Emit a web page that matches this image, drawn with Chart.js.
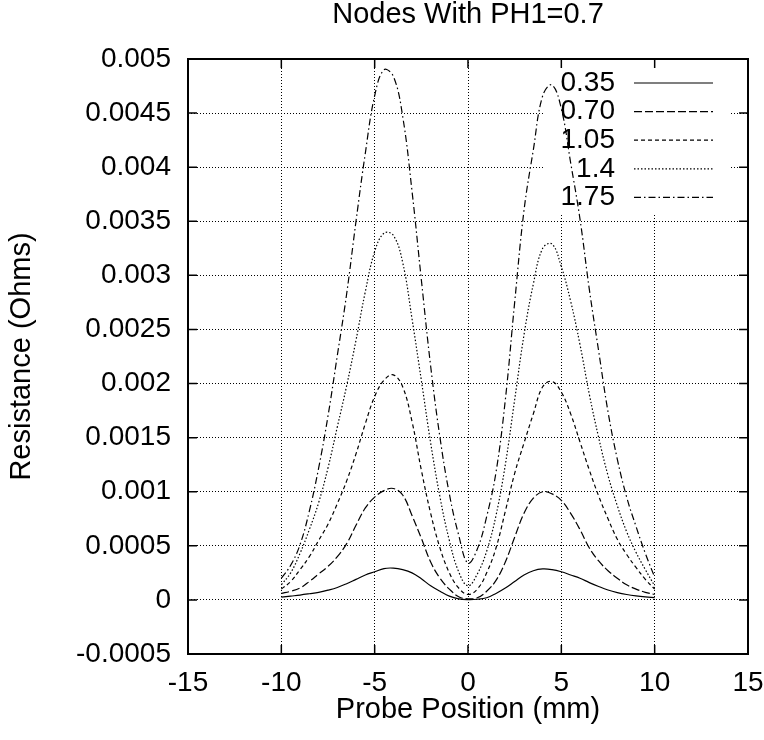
<!DOCTYPE html>
<html><head><meta charset="utf-8">
<script src="https://cdn.jsdelivr.net/npm/chart.js@4.4.0/dist/chart.umd.min.js"></script>
<style>html,body{margin:0;padding:0;background:#fff;} canvas{display:block;}</style>
</head><body>
<canvas id="c" width="764" height="740"></canvas>
<script>
const chartTitle = 'Nodes With PH1=0.7';
const xTitle = 'Probe Position (mm)';
const yTitle = 'Resistance (Ohms)';

const positions = [-10,-9.5,-9,-8.5,-8,-7.5,-7,-6.5,-6,-5.5,-5,-4.5,-4,-3.5,-3,-2.5,-2,-1.5,-1,-0.5,0,
  0.5,1,1.5,2,2.5,3,3.5,4,4.5,5,5.5,6,6.5,7,7.5,8,8.5,9,9.5,10];

const seriesLabels = ['0.35','0.70','1.05','1.4','1.75'];

const r035 = [0.000025,0.000035,0.000045,0.000057,0.00007,0.00009,0.000115,0.00015,0.00019,0.00023,0.00026,0.00029,0.000294,0.00028,0.00025,0.000195,0.00013,0.00008,0.000035,0.00001,0.000003,
  0.000006,0.00002,0.00006,0.00011,0.00017,0.00023,0.00027,0.000286,0.00028,0.00026,0.00023,0.0002,0.00016,0.000124,0.000092,0.000068,0.00005,0.000037,0.000028,0.000022];
const r070 = [0.00006,0.00008,0.00011,0.00017,0.00024,0.00031,0.0004,0.00052,0.00069,0.00085,0.00095,0.00101,0.00103,0.00097,0.00078,0.00057,0.00035,0.0002,0.0001,0.00003,0.00001,
  0.00002,0.00008,0.00018,0.00035,0.00058,0.0008,0.00094,0.001,0.00098,0.00092,0.0008,0.00065,0.00048,0.00036,0.00027,0.0002,0.00014,0.0001,0.00007,0.00005];
const r105 = [0.0001,0.00017,0.00028,0.0004,0.00055,0.0007,0.00089,0.0011,0.00135,0.00163,0.00188,0.00203,0.00208,0.00197,0.00165,0.0012,0.0008,0.00048,0.00025,0.00011,0.00005,
  0.0001,0.00025,0.00048,0.00082,0.00117,0.00145,0.00172,0.00197,0.00202,0.00192,0.00172,0.00146,0.0012,0.00096,0.00075,0.00056,0.00042,0.0003,0.00019,0.0001];
const r140 = [0.00014,0.00025,0.00043,0.00065,0.0009,0.00122,0.0016,0.00198,0.0024,0.00285,0.00322,0.00339,0.00337,0.00312,0.0026,0.00203,0.00145,0.00095,0.00055,0.00026,0.00013,
  0.00024,0.00045,0.00078,0.00125,0.00185,0.00245,0.00292,0.00325,0.00329,0.00308,0.00276,0.00236,0.0019,0.0015,0.00115,0.00087,0.00063,0.00044,0.00028,0.00013];
const r175 = [0.0002,0.00032,0.00051,0.00082,0.00122,0.0017,0.00226,0.00283,0.0035,0.00413,0.00466,0.0049,0.00484,0.00447,0.00378,0.00296,0.00216,0.0015,0.00098,0.0006,0.00034,
  0.00047,0.00077,0.00118,0.00185,0.00275,0.0036,0.00416,0.00466,0.00476,0.00454,0.00404,0.00352,0.00287,0.0023,0.00174,0.0013,0.00095,0.00068,0.00043,0.00021];

const xTickValues = [-15,-10,-5,0,5,10,15];
const xTickLabels = ['-15','-10','-5','0','5','10','15'];
const yTickValues = [-0.0005,0,0.0005,0.001,0.0015,0.002,0.0025,0.003,0.0035,0.004,0.0045,0.005];
const yTickLabels = ['-0.0005','0','0.0005','0.001','0.0015','0.002','0.0025','0.003','0.0035','0.004','0.0045','0.005'];

const FONT = "'Liberation Sans', Arial, Helvetica, sans-serif";
const TICK_SIZE = 28, TEXT_SIZE = 29, KEY_SIZE = 28;
const dashes = [[], [8,3], [4,3], [1.5,2], [7,3,1.5,3]];
const seriesValues = [r035, r070, r105, r140, r175];

const datasets = seriesValues.map((vals, i) => ({
  label: seriesLabels[i],
  data: positions.map((p, j) => ({x: p, y: vals[j]})),
  borderColor: '#000',
  borderWidth: 1.2,
  borderDash: dashes[i],
  pointRadius: 0,
  fill: false,
  tension: 0.4
}));

const frame = {
  id: 'frame',
  beforeDatasetsDraw(chart) {
    const {ctx, chartArea: a} = chart;
    ctx.save();
    ctx.fillStyle = '#fff';
    ctx.fillRect(a.right - 203, a.top + 2, 186, 153);
    ctx.restore();
  },
  afterDatasetsDraw(chart) {
    const {ctx, chartArea: a, scales: {x, y}} = chart;
    ctx.save();
    ctx.strokeStyle = '#000';
    ctx.lineWidth = 1.5;
    ctx.beginPath();
    xTickValues.forEach(v => {
      const px = x.getPixelForValue(v);
      ctx.moveTo(px, a.bottom); ctx.lineTo(px, a.bottom - 9);
      ctx.moveTo(px, a.top); ctx.lineTo(px, a.top + 9);
    });
    yTickValues.forEach(v => {
      const py = y.getPixelForValue(v);
      ctx.moveTo(a.left, py); ctx.lineTo(a.left + 9, py);
      ctx.moveTo(a.right, py); ctx.lineTo(a.right - 9, py);
    });
    ctx.stroke();
    ctx.lineWidth = 2;
    ctx.strokeRect(a.left, a.top, a.right - a.left, a.bottom - a.top);

    ctx.fillStyle = '#000';
    ctx.font = TEXT_SIZE + 'px ' + FONT;
    ctx.textAlign = 'center';
    ctx.textBaseline = 'middle';
    ctx.fillText(chartTitle, (a.left + a.right) / 2, 15);

    ctx.font = KEY_SIZE + 'px ' + FONT;
    ctx.textAlign = 'right';
    chart.data.datasets.forEach((ds, i) => {
      const yy = a.top + 24 + i * 28.6;
      ctx.fillText(ds.label, a.right - 133, yy);
      ctx.setLineDash(ds.borderDash || []);
      ctx.lineWidth = 1.2;
      ctx.beginPath();
      ctx.moveTo(a.right - 114, yy); ctx.lineTo(a.right - 35, yy);
      ctx.stroke();
      ctx.setLineDash([]);
    });
    ctx.restore();
  }
};

new Chart(document.getElementById('c'), {
  type: 'line',
  data: {datasets},
  plugins: [frame],
  options: {
    responsive: false,
    devicePixelRatio: 1,
    animation: false,
    layout: {padding: {top: 59, right: 16, bottom: 0, left: 0}},
    plugins: {legend: {display: false}, title: {display: false}, tooltip: {enabled: false}},
    scales: {
      x: {
        type: 'linear', min: -15, max: 15,
        afterBuildTicks(s) { s.ticks = xTickValues.map(v => ({value: v})); },
        afterFit(s) { s.height = 86; s.paddingLeft = 0; s.paddingRight = 0; },
        grid: {color: '#000', lineWidth: 1, drawTicks: false},
        border: {display: false, dash: [1, 2]},
        ticks: {padding: 12, color: '#000', font: {family: FONT, size: TICK_SIZE}, maxRotation: 0, autoSkip: false,
          callback: (v, i) => xTickLabels[i]},
        title: {display: true, text: xTitle, color: '#000', font: {family: FONT, size: TEXT_SIZE}, padding: {top: 0, bottom: 13}}
      },
      y: {
        type: 'linear', min: -0.0005, max: 0.005,
        afterBuildTicks(s) { s.ticks = yTickValues.map(v => ({value: v})); },
        afterFit(s) { s.width = 188; s.paddingTop = 0; s.paddingBottom = 0; },
        grid: {color: '#000', lineWidth: 1, drawTicks: false},
        border: {display: false, dash: [1, 2]},
        ticks: {padding: 17, color: '#000', font: {family: FONT, size: TICK_SIZE}, autoSkip: false,
          callback: (v, i) => yTickLabels[i]},
        title: {display: true, text: yTitle, color: '#000', font: {family: FONT, size: TEXT_SIZE}, padding: {top: 5, bottom: 0}}
      }
    }
  }
});
</script>
</body></html>
